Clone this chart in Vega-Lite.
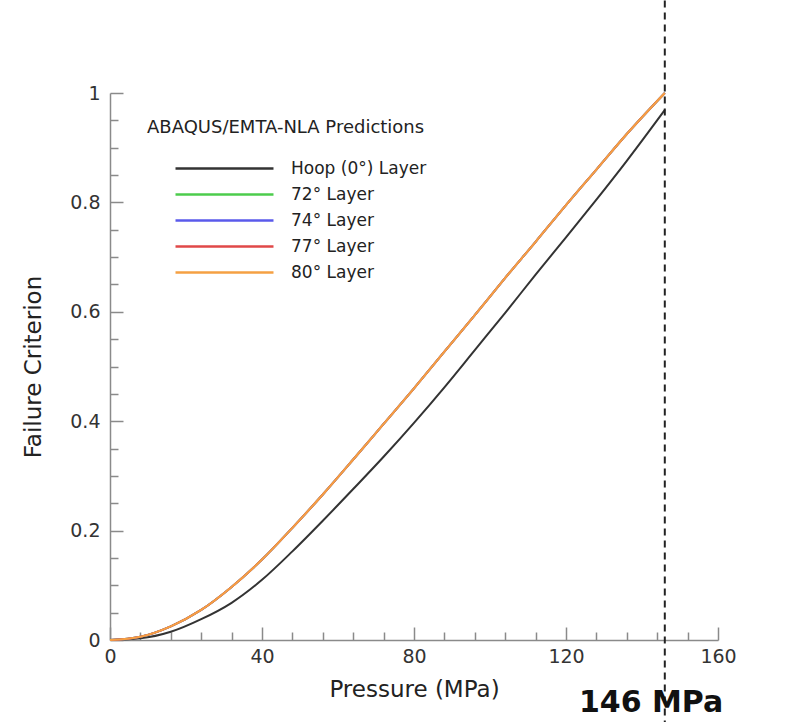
{
  "$schema": "https://vega.github.io/schema/vega-lite/v6.json",
  "width": 608,
  "height": 547,
  "autosize": "none",
  "padding": {"left": 110, "top": 93, "right": 89, "bottom": 82},
  "background": "white",
  "config": {
    "view": {"stroke": null},
    "font": "DejaVu Sans",
    "axis": {"grid": false, "domainColor": "#8a8a8a", "tickColor": "#8a8a8a", "domainWidth": 1.5, "tickWidth": 1.5, "labelColor": "#333333", "titleColor": "#222222", "labelFont": "DejaVu Sans", "titleFont": "DejaVu Sans", "titleFontWeight": "normal", "labelOverlap": false, "labelFlush": false}
  },
  "datasets": {
    "curves": [
      {"series": "Hoop (0°) Layer", "p": 0, "fc": 0},
      {"series": "Hoop (0°) Layer", "p": 8, "fc": 0.003},
      {"series": "Hoop (0°) Layer", "p": 16, "fc": 0.015},
      {"series": "Hoop (0°) Layer", "p": 24, "fc": 0.038},
      {"series": "Hoop (0°) Layer", "p": 32, "fc": 0.068},
      {"series": "Hoop (0°) Layer", "p": 40, "fc": 0.11},
      {"series": "Hoop (0°) Layer", "p": 48, "fc": 0.162},
      {"series": "Hoop (0°) Layer", "p": 56, "fc": 0.218},
      {"series": "Hoop (0°) Layer", "p": 64, "fc": 0.276},
      {"series": "Hoop (0°) Layer", "p": 72, "fc": 0.335},
      {"series": "Hoop (0°) Layer", "p": 80, "fc": 0.397},
      {"series": "Hoop (0°) Layer", "p": 88, "fc": 0.462},
      {"series": "Hoop (0°) Layer", "p": 96, "fc": 0.53},
      {"series": "Hoop (0°) Layer", "p": 104, "fc": 0.598},
      {"series": "Hoop (0°) Layer", "p": 112, "fc": 0.668},
      {"series": "Hoop (0°) Layer", "p": 120, "fc": 0.736},
      {"series": "Hoop (0°) Layer", "p": 128, "fc": 0.805},
      {"series": "Hoop (0°) Layer", "p": 136, "fc": 0.876},
      {"series": "Hoop (0°) Layer", "p": 146, "fc": 0.969},
      {"series": "72° Layer", "p": 0, "fc": 0},
      {"series": "72° Layer", "p": 8, "fc": 0.006},
      {"series": "72° Layer", "p": 16, "fc": 0.025},
      {"series": "72° Layer", "p": 24, "fc": 0.055},
      {"series": "72° Layer", "p": 32, "fc": 0.097},
      {"series": "72° Layer", "p": 40, "fc": 0.147},
      {"series": "72° Layer", "p": 48, "fc": 0.205},
      {"series": "72° Layer", "p": 56, "fc": 0.266},
      {"series": "72° Layer", "p": 64, "fc": 0.33},
      {"series": "72° Layer", "p": 72, "fc": 0.395},
      {"series": "72° Layer", "p": 80, "fc": 0.46},
      {"series": "72° Layer", "p": 88, "fc": 0.527},
      {"series": "72° Layer", "p": 96, "fc": 0.594},
      {"series": "72° Layer", "p": 104, "fc": 0.662},
      {"series": "72° Layer", "p": 112, "fc": 0.728},
      {"series": "72° Layer", "p": 120, "fc": 0.795},
      {"series": "72° Layer", "p": 128, "fc": 0.86},
      {"series": "72° Layer", "p": 136, "fc": 0.925},
      {"series": "72° Layer", "p": 146, "fc": 1.0},
      {"series": "74° Layer", "p": 0, "fc": 0},
      {"series": "74° Layer", "p": 8, "fc": 0.006},
      {"series": "74° Layer", "p": 16, "fc": 0.025},
      {"series": "74° Layer", "p": 24, "fc": 0.055},
      {"series": "74° Layer", "p": 32, "fc": 0.097},
      {"series": "74° Layer", "p": 40, "fc": 0.147},
      {"series": "74° Layer", "p": 48, "fc": 0.205},
      {"series": "74° Layer", "p": 56, "fc": 0.266},
      {"series": "74° Layer", "p": 64, "fc": 0.33},
      {"series": "74° Layer", "p": 72, "fc": 0.395},
      {"series": "74° Layer", "p": 80, "fc": 0.46},
      {"series": "74° Layer", "p": 88, "fc": 0.527},
      {"series": "74° Layer", "p": 96, "fc": 0.594},
      {"series": "74° Layer", "p": 104, "fc": 0.662},
      {"series": "74° Layer", "p": 112, "fc": 0.728},
      {"series": "74° Layer", "p": 120, "fc": 0.795},
      {"series": "74° Layer", "p": 128, "fc": 0.86},
      {"series": "74° Layer", "p": 136, "fc": 0.925},
      {"series": "74° Layer", "p": 146, "fc": 1.0},
      {"series": "77° Layer", "p": 0, "fc": 0},
      {"series": "77° Layer", "p": 8, "fc": 0.006},
      {"series": "77° Layer", "p": 16, "fc": 0.025},
      {"series": "77° Layer", "p": 24, "fc": 0.055},
      {"series": "77° Layer", "p": 32, "fc": 0.097},
      {"series": "77° Layer", "p": 40, "fc": 0.147},
      {"series": "77° Layer", "p": 48, "fc": 0.205},
      {"series": "77° Layer", "p": 56, "fc": 0.266},
      {"series": "77° Layer", "p": 64, "fc": 0.33},
      {"series": "77° Layer", "p": 72, "fc": 0.395},
      {"series": "77° Layer", "p": 80, "fc": 0.46},
      {"series": "77° Layer", "p": 88, "fc": 0.527},
      {"series": "77° Layer", "p": 96, "fc": 0.594},
      {"series": "77° Layer", "p": 104, "fc": 0.662},
      {"series": "77° Layer", "p": 112, "fc": 0.728},
      {"series": "77° Layer", "p": 120, "fc": 0.795},
      {"series": "77° Layer", "p": 128, "fc": 0.86},
      {"series": "77° Layer", "p": 136, "fc": 0.925},
      {"series": "77° Layer", "p": 146, "fc": 1.0},
      {"series": "80° Layer", "p": 0, "fc": 0},
      {"series": "80° Layer", "p": 8, "fc": 0.006},
      {"series": "80° Layer", "p": 16, "fc": 0.025},
      {"series": "80° Layer", "p": 24, "fc": 0.055},
      {"series": "80° Layer", "p": 32, "fc": 0.097},
      {"series": "80° Layer", "p": 40, "fc": 0.147},
      {"series": "80° Layer", "p": 48, "fc": 0.205},
      {"series": "80° Layer", "p": 56, "fc": 0.266},
      {"series": "80° Layer", "p": 64, "fc": 0.33},
      {"series": "80° Layer", "p": 72, "fc": 0.395},
      {"series": "80° Layer", "p": 80, "fc": 0.46},
      {"series": "80° Layer", "p": 88, "fc": 0.527},
      {"series": "80° Layer", "p": 96, "fc": 0.594},
      {"series": "80° Layer", "p": 104, "fc": 0.662},
      {"series": "80° Layer", "p": 112, "fc": 0.728},
      {"series": "80° Layer", "p": 120, "fc": 0.795},
      {"series": "80° Layer", "p": 128, "fc": 0.86},
      {"series": "80° Layer", "p": 136, "fc": 0.925},
      {"series": "80° Layer", "p": 146, "fc": 1.0}
    ],
    "marker": [
      {"p": 146, "lo": -0.16, "hi": 1.18}
    ],
    "note": [
      {"p": 142.4, "fc": -0.132, "label": "146 MPa"}
    ]
  },
  "layer": [
    {
      "data": {"name": "curves"},
      "mark": {"type": "line", "strokeWidth": 2, "clip": false, "interpolate": "monotone"},
      "encoding": {
        "x": {
          "field": "p", "type": "quantitative",
          "scale": {"domain": [0, 160], "nice": false, "zero": false},
          "axis": {
            "title": "Pressure (MPa)",
            "titleFontSize": 23,
            "titlePadding": 7,
            "labelFontSize": 19,
            "labelPadding": 20,
            "labelOverlap": false,
            "labelFlush": false,
            "tickCount": 40,
            "values": [0, 8, 16, 24, 32, 40, 48, 56, 64, 72, 80, 88, 96, 104, 112, 120, 128, 136, 144, 152, 160],
            "labelExpr": "datum.value % 40 === 0 ? datum.label : ''",
            "tickSize": {"condition": {"test": "datum.value % 40 === 0", "value": -13}, "value": -8}
          }
        },
        "y": {
          "field": "fc", "type": "quantitative",
          "scale": {"domain": [0, 1], "nice": false, "zero": false},
          "axis": {
            "title": "Failure Criterion",
            "titleFontSize": 23,
            "titlePadding": 24,
            "labelFontSize": 19,
            "labelPadding": 23,
            "labelOverlap": false,
            "labelFlush": false,
            "tickCount": 40,
            "format": "~g",
            "values": [0, 0.05, 0.1, 0.15, 0.2, 0.25, 0.3, 0.35, 0.4, 0.45, 0.5, 0.55, 0.6, 0.65, 0.7, 0.75, 0.8, 0.85, 0.9, 0.95, 1],
            "labelExpr": "abs(datum.value * 5 - round(datum.value * 5)) < 0.000001 ? datum.label : ''",
            "tickSize": {"condition": {"test": "abs(datum.value * 5 - round(datum.value * 5)) < 0.000001", "value": -13}, "value": -8}
          }
        },
        "color": {
          "field": "series", "type": "nominal",
          "scale": {
            "domain": ["Hoop (0°) Layer", "72° Layer", "74° Layer", "77° Layer", "80° Layer"],
            "range": ["#333333", "#4ccc4c", "#5a5aeb", "#e04848", "#f5a043"]
          },
          "legend": {
            "title": "ABAQUS/EMTA-NLA Predictions",
            "orient": "none",
            "legendX": 37,
            "legendY": 26,
            "titleFontSize": 18,
            "titleFontWeight": "normal",
            "titleColor": "#222222",
            "titleFont": "DejaVu Sans",
            "titleLimit": 0,
            "titlePadding": 20,
            "labelFontSize": 17,
            "labelColor": "#222222",
            "labelFont": "DejaVu Sans",
            "labelLimit": 0,
            "labelOffset": 55,
            "symbolType": "M-5,0H5",
            "symbolSize": 384,
            "symbolStrokeWidth": 2.5,
            "symbolOffset": 66,
            "rowPadding": 6
          }
        }
      }
    },
    {
      "data": {"name": "marker"},
      "mark": {"type": "rule", "color": "#222222", "strokeWidth": 2, "strokeDash": [7, 5], "clip": false},
      "encoding": {
        "x": {"field": "p", "type": "quantitative"},
        "y": {"field": "lo", "type": "quantitative"},
        "y2": {"field": "hi"}
      }
    },
    {
      "data": {"name": "note"},
      "mark": {"type": "text", "fontSize": 30, "fontWeight": "bold", "font": "DejaVu Sans", "color": "#111111", "align": "center", "baseline": "alphabetic", "clip": false},
      "encoding": {
        "x": {"field": "p", "type": "quantitative"},
        "y": {"field": "fc", "type": "quantitative"},
        "text": {"field": "label"}
      }
    }
  ]
}
